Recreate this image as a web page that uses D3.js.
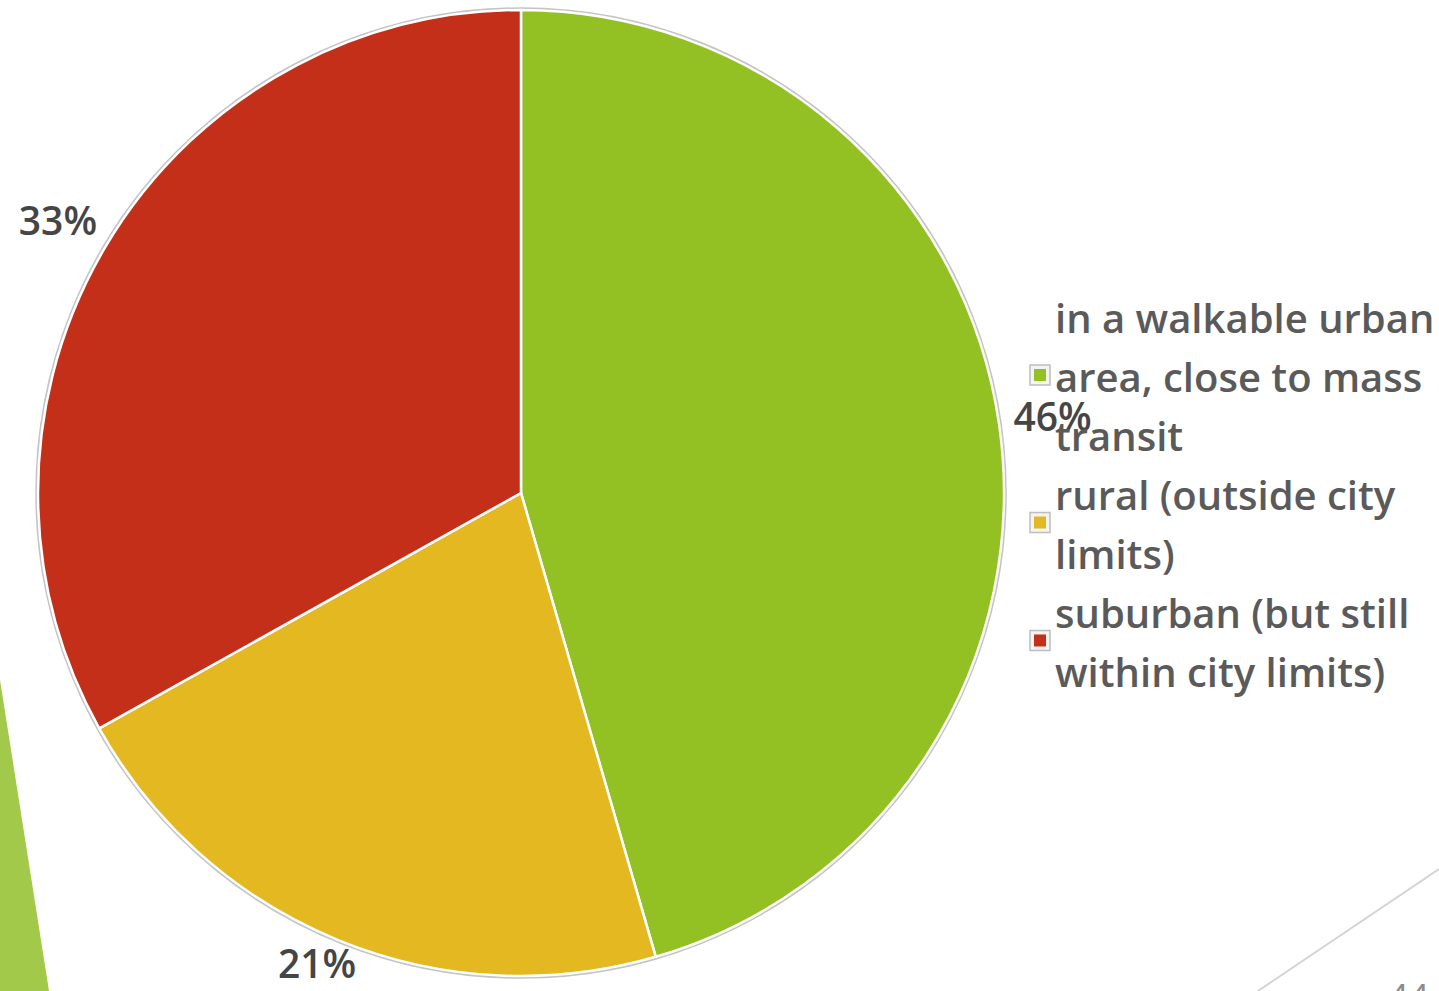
<!DOCTYPE html>
<html lang="en">
  <head>
    <meta charset="UTF-8" />
    <title>Where people want to live</title>
    <style>
      body { margin: 0; background: #fff; }
      svg { display: block; }
    </style>
  </head>
  <body>
    <svg id="chart" width="1439" height="991"></svg>
    <script src="https://d3js.org/d3.v7.min.js"></script>
    <script>
      // values (labels show them rounded)
      const categories = [
        "in a walkable urban area, close to mass transit",
        "rural (outside city limits)",
        "suburban (but still within city limits)"
      ];
      const legendLines = [
        ["in a walkable urban", "area, close to mass", "transit"],
        ["rural (outside city", "limits)"],
        ["suburban (but still", "within city limits)"]
      ];
      const values = [45.5, 21.4, 33.1];
      const colors = ["#93c123", "#e4b820", "#c42f19"];

      const W = 1439, H = 991;
      const svg = d3.select("#chart");
      const cx = 521, cy = 493, r = 483;

      // slide decoration: green band bottom-left, grey line bottom-right, page number
      svg.append("path")
        .attr("d", "M0,680 L49,991 L0,991 Z")
        .attr("fill", "#a2c94a");
      svg.append("line")
        .attr("x1", 1258).attr("y1", 991)
        .attr("x2", 1439).attr("y2", 869)
        .attr("stroke", "#d4d4d4")
        .attr("stroke-width", 2);
      svg.append("text")
        .attr("x", 1388).attr("y", 1010)
        .attr("font-family", "Open Sans")
        .attr("font-size", 36)
        .attr("fill", "#8c8c8c")
        .text("44");

      const pie = d3.pie().sort(null).value((d) => d);
      const arcs = pie(values);
      const arc = d3.arc().innerRadius(0).outerRadius(r);
      const labelArc = d3.arc().innerRadius(r + 54).outerRadius(r + 54);

      const g = svg.append("g").attr("transform", `translate(${cx},${cy})`);

      // soft outer rim
      g.append("circle")
        .attr("r", r + 1.5)
        .attr("fill", "none")
        .attr("stroke", "#c4c4c4")
        .attr("stroke-width", 2.5);

      g.selectAll("path.slice")
        .data(arcs)
        .enter()
        .append("path")
        .attr("class", "slice")
        .attr("d", arc)
        .attr("fill", (d, i) => colors[i])
        .attr("stroke", "#fff")
        .attr("stroke-width", 2.5)
        .attr("stroke-linejoin", "round");

      // percentage labels outside the pie, kept inside the picture
      g.selectAll("text.pct")
        .data(arcs)
        .enter()
        .append("text")
        .attr("class", "pct")
        .attr("transform", (d) => {
          const [x, y] = labelArc.centroid(d);
          const yy = Math.min(y, H - cy - 27);
          return `translate(${x},${yy})`;
        })
        .attr("text-anchor", "middle")
        .attr("dy", "0.36em")
        .attr("font-family", "Open Sans")
        .attr("font-size", 39)
        .attr("font-weight", 600)
        .attr("fill", "#454545")
        .text((d) => Math.round(d.data) + "%");

      // legend
      const lineH = 59;
      const legendX = 1055;
      const legendTop = 333;
      let row = 0;
      legendLines.forEach((lines, i) => {
        const first = row;
        lines.forEach((t) => {
          svg.append("text")
            .attr("x", legendX)
            .attr("y", legendTop + row * lineH)
            .attr("font-family", "Open Sans")
            .attr("font-size", 40)
            .attr("font-weight", 600)
            .attr("fill", "#5a5a5a")
            .text(t);
          row++;
        });
        const midY = legendTop + ((first + row - 1) / 2) * lineH - 17;
        svg.append("rect")
          .attr("x", legendX - 25)
          .attr("y", midY - 10)
          .attr("width", 20)
          .attr("height", 20)
          .attr("fill", "#f4f4f4")
          .attr("stroke", "#bdbdbd")
          .attr("stroke-width", 1.5);
        svg.append("rect")
          .attr("x", legendX - 21)
          .attr("y", midY - 6)
          .attr("width", 12)
          .attr("height", 12)
          .attr("fill", colors[i]);
      });
    </script>
  </body>
</html>
